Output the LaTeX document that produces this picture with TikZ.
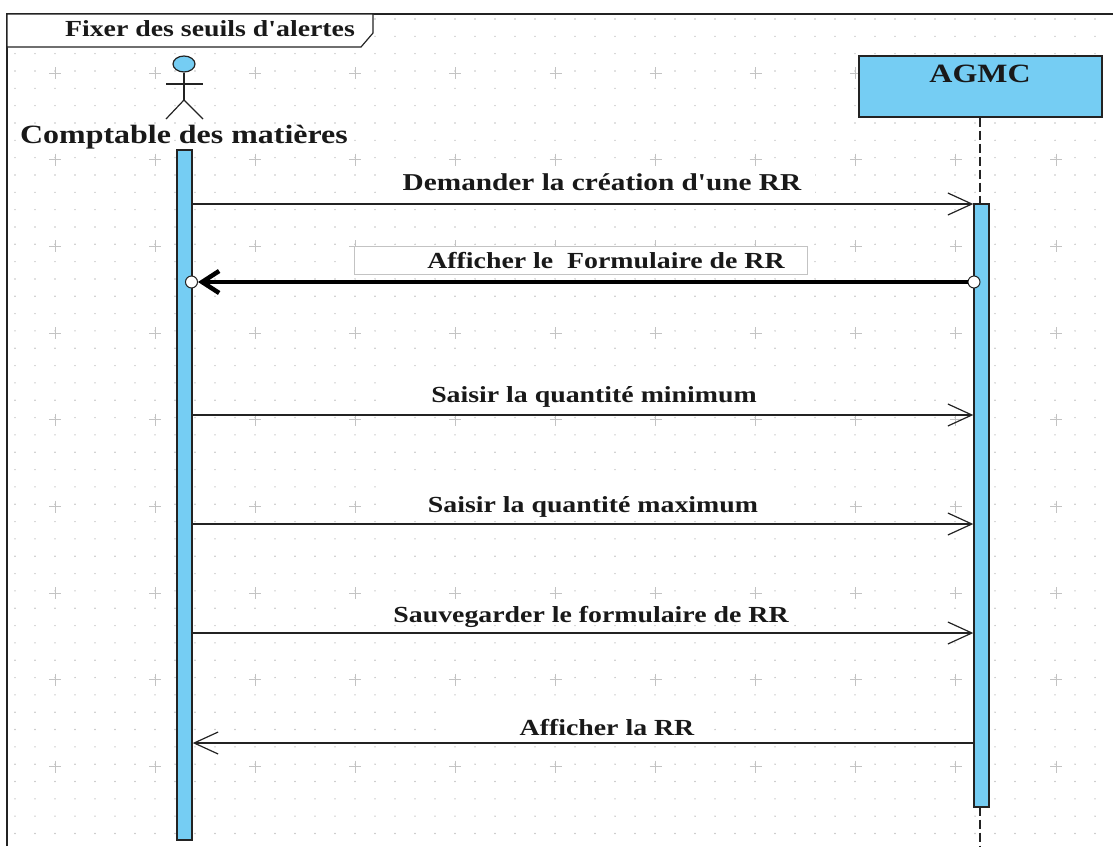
\documentclass[tikz,border=0pt]{standalone}
\usepackage{fontspec}
\setmainfont{Liberation Serif}[FakeStretch=1.21, Ligatures=TeXOff]
\usetikzlibrary{positioning, arrows.meta, shapes.geometric}
\definecolor{seqblue}{RGB}{117, 205, 243}
\definecolor{seqline}{RGB}{35, 35, 35}
\definecolor{seqgrid}{RGB}{195, 195, 195}
\tikzset{
    lbl/.style={inner sep=0pt, font=\fontsize{23}{25}\selectfont\bfseries, text=black!90},
    biglbl/.style={lbl, font=\fontsize{26.4}{28}\selectfont\bfseries},
    lifebox/.style={draw=seqline, line width=1.4pt, fill=seqblue, inner sep=0pt},
    activebar/.style={lifebox, minimum width=15pt},
    lifeline/.style={draw=seqline, line width=1.3pt, dash pattern=on 9pt off 4pt},
    msg/.style={draw=seqline, line width=1.2pt, -{Straight Barb[length=24pt, width=22pt, line width=1.2pt]}},
    boldmsg/.style={draw=black, line width=4.5pt, -{Straight Barb[length=17pt, width=22pt, line width=4.5pt]}},
    port/.style={circle, draw=seqline, line width=1pt, fill=white, inner sep=0pt, minimum size=12pt},
    actorline/.style={draw=seqline, line width=1.2pt}
}

\begin{document}
\begin{tikzpicture}[x=1pt, y=-1pt]
    \useasboundingbox (0,0) rectangle (1113,846);
    % background dots and crosses
    \foreach \k in {0,...,47} {
        \foreach \j in {0,...,54} {
            \fill[seqgrid] ({15+20*\j},{19+17.33*\k}) circle (0.8pt);
        }
    }
    \foreach \k in {0,...,8} {
        \foreach \j in {0,...,10} {
            \draw[seqgrid, line width=1pt] ({55+100.1*\j-6},{73+86.7*\k}) -- ++(12,0) ({55+100.1*\j},{73+86.7*\k-6}) -- ++(0,12);
        }
    }
    % white behind the labels
    \foreach \xa/\ya/\xb/\yb in {392/167/815/203, 380/375/790/414, 380/482/790/520, 350/600/808/622, 440/708/710/741} {
        \fill[white] (\xa,\ya) rectangle (\xb,\yb);
    }
    % frame
    \draw[seqline, line width=1.4pt] (7,846) -- (7,14) -- (1113,14);
    \draw[seqline, line width=1.2pt, fill=white] (7,47) -- (361,47) -- (373,33) -- (373,14) -- (7,14) -- cycle;
    \node[lbl, anchor=center] (title) at (210,29) {Fixer des seuils d'alertes};
    % actor
    \node[draw=seqline, line width=1.2pt, fill=seqblue, ellipse, inner sep=0pt, minimum width=22pt, minimum height=16pt] (head) at (184,64) {};
    \coordinate (hip) at (184,100);
    \draw[actorline] (head.south) -- (hip);
    \draw[actorline] (166,84) -- (203,84);
    \draw[actorline] (166,119) -- (hip) -- (203,119);
    \node[biglbl] (compta) at (184,137) {Comptable des matières};
    % AGMC
    \node[lifebox, minimum width=243pt, minimum height=61pt] (agmc) at (980.5,86.5) {};
    \node[biglbl] (agmclbl) at (980,73.5) {AGMC};
    % activation bars
    \node[activebar, minimum height=690pt] (barleft) at (184.5,495) {};
    \coordinate (lifeend) at (980,846);
    \draw[lifeline] (agmc.south -| lifeend) -- (lifeend);
    \node[activebar, minimum height=603pt] (barright) at (981.5,505.5) {};
    % messages
    \coordinate (m1) at (0,204);
    \coordinate (m2) at (0,282);
    \coordinate (m3) at (0,415);
    \coordinate (m4) at (0,524);
    \coordinate (m5) at (0,633);
    \coordinate (m6) at (0,743);
    \draw[msg] (barleft.east |- m1) -- (barright.west |- m1);
    \draw[msg] (barleft.east |- m3) -- (barright.west |- m3);
    \draw[msg] (barleft.east |- m4) -- (barright.west |- m4);
    \draw[msg] (barleft.east |- m5) -- (barright.west |- m5);
    \draw[msg] (barright.west |- m6) -- (barleft.east |- m6);
    \node[draw=seqgrid, line width=1pt, fill=white, minimum width=453pt, minimum height=28pt, inner sep=0pt] (formbox) at (580.5,260) {};
    \node[port] (portleft) at (191.5,282) {};
    \node[port] (portright) at (974,282) {};
    \draw[boldmsg] (portright) -- (portleft);
    \node[lbl, font=\fontsize{24.2}{26}\selectfont\bfseries] (lbl1) at (602,182) {Demander la création d'une RR};
    \node[lbl] (lbl2) at (606,261) {Afficher le\ \ Formulaire de RR};
    \node[lbl] (lbl3) at (594,397) {Saisir la quantité minimum};
    \node[lbl] (lbl4) at (593,507) {Saisir la quantité maximum};
    \node[lbl] (lbl5) at (591,617) {Sauvegarder le formulaire de RR};
    \node[lbl] (lbl6) at (607,728) {Afficher la RR};
\end{tikzpicture}
\end{document}
